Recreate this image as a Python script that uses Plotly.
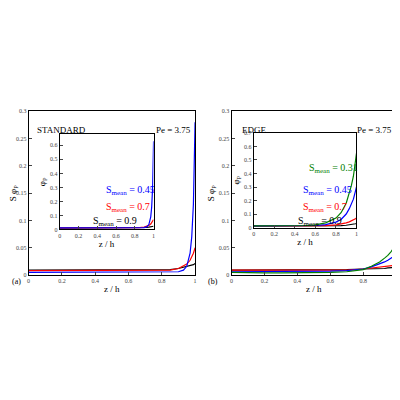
import plotly.graph_objects as go

x = [0, 0.1, 0.2, 0.3, 0.4, 0.5, 0.6, 0.7, 0.8, 0.85, 0.9, 0.93, 0.95, 0.97, 0.98, 0.99, 1.0]
# Panel (a) STANDARD, S*phi_p
a_045 = [0.005]*10 + [0.006, 0.009, 0.016, 0.04, 0.07, 0.13, 0.28]
a_07 = [0.008]*9 + [0.009, 0.012, 0.016, 0.02, 0.027, 0.033, 0.04, 0.05]
a_09 = [0.009]*9 + [0.010, 0.012, 0.014, 0.015, 0.017, 0.018, 0.019, 0.021]
# inset (a) phi_p
ai_045 = [0.011]*10 + [0.013, 0.02, 0.035, 0.09, 0.16, 0.3, 0.63]
ai_07 = [0.011]*9 + [0.013, 0.017, 0.023, 0.029, 0.039, 0.047, 0.057, 0.07]
ai_09 = [0.01]*9 + [0.011, 0.013, 0.015, 0.017, 0.019, 0.02, 0.021, 0.023]
# Panel (b) EDGE
b_031 = [0.005, 0.004, 0.004, 0.004, 0.004, 0.004, 0.005, 0.006, 0.01, 0.016, 0.024, 0.031, 0.036, 0.043, 0.047, 0.052, 0.06]
b_045 = [0.006, 0.006, 0.006, 0.006, 0.006, 0.006, 0.007, 0.008, 0.011, 0.015, 0.02, 0.024, 0.027, 0.031, 0.033, 0.035, 0.037]
b_07 = [0.009, 0.009, 0.009, 0.009, 0.009, 0.009, 0.009, 0.009, 0.011, 0.013, 0.015, 0.016, 0.017, 0.017, 0.018, 0.018, 0.018]
b_09 = [0.009, 0.009, 0.009, 0.009, 0.009, 0.009, 0.009, 0.01, 0.011, 0.011, 0.012, 0.012, 0.013, 0.013, 0.013, 0.014, 0.014]
bi_031 = [0.012, 0.012, 0.012, 0.012, 0.013, 0.015, 0.02, 0.035, 0.07, 0.11, 0.18, 0.25, 0.31, 0.38, 0.43, 0.48, 0.55]
bi_045 = [0.012, 0.012, 0.012, 0.012, 0.012, 0.013, 0.015, 0.022, 0.04, 0.06, 0.1, 0.14, 0.17, 0.21, 0.24, 0.27, 0.3]
bi_07 = [0.012]*7 + [0.014, 0.02, 0.026, 0.035, 0.042, 0.048, 0.055, 0.06, 0.065, 0.07]
bi_09 = [0.01]*8 + [0.012, 0.014, 0.017, 0.019, 0.021, 0.024, 0.026, 0.028, 0.03]

BL, RD, BK, GR = "#0000ff", "#ff0000", "#000000", "#008000"
F = "Liberation Serif"
fig = go.Figure()
def add(y, c, xa, ya):
    fig.add_trace(go.Scatter(x=x, y=y, mode="lines", line=dict(color=c, width=1.2),
                             xaxis=xa, yaxis=ya, showlegend=False))
add(a_09, BK, "x", "y"); add(a_07, RD, "x", "y"); add(a_045, BL, "x", "y")
add(ai_09, BK, "x2", "y2"); add(ai_07, RD, "x2", "y2"); add(ai_045, BL, "x2", "y2")
add(b_09, BK, "x3", "y3"); add(b_07, RD, "x3", "y3"); add(b_045, BL, "x3", "y3"); add(b_031, GR, "x3", "y3")
add(bi_09, BK, "x4", "y4"); add(bi_07, RD, "x4", "y4"); add(bi_045, BL, "x4", "y4"); add(bi_031, GR, "x4", "y4")

ax = dict(showgrid=False, zeroline=False, showline=True, linecolor="black", linewidth=1, mirror=True,
          ticks="inside", ticklen=3, tickfont=dict(family=F, size=6, color="#444"))
xt = dict(tickvals=[0, 0.2, 0.4, 0.6, 0.8, 1], ticktext=["0", "0.2", "0.4", "0.6", "0.8", "1"])
my = dict(range=[0, 0.3], tickvals=[0, 0.05, 0.1, 0.15, 0.2, 0.25, 0.3], ticktext=["0", "0.05", "0.1", "0.15", "0.2", "0.25", "0.3"])
iy = dict(tickvals=[0, 0.1, 0.2, 0.3, 0.4, 0.5, 0.6, 0.7], ticktext=["0", "0.1", "0.2", "0.3", "0.4", "0.5", "0.6", "0.7"])
tt = lambda t: dict(text=t, font=dict(family=F, size=9, color="black"), standoff=2)
fig.update_layout(
    width=392, height=392, margin=dict(l=0, r=0, t=0, b=0), plot_bgcolor="white", paper_bgcolor="white",
    xaxis=dict(**ax, **xt, domain=[0.048, 0.477], range=[0, 1], anchor="y", title=tt("z / h")),
    yaxis=dict(**ax, **my, domain=[0.316, 0.74], anchor="x", title=tt("S φ<sub>P</sub>")),
    xaxis2=dict(**ax, **xt, domain=[0.128, 0.37], range=[0, 1], anchor="y2", title=tt("z / h")),
    yaxis2=dict(**ax, **iy, domain=[0.434, 0.681], range=[0, 0.68], anchor="x2", title=tt("φ<sub>P</sub>")),
    xaxis3=dict(**ax, **xt, domain=[0.571, 0.995], range=[0, 1], anchor="y3", title=tt("z / h")),
    yaxis3=dict(**ax, **my, domain=[0.316, 0.74], anchor="x3", title=tt("S φ<sub>P</sub>")),
    xaxis4=dict(**ax, **xt, domain=[0.628, 0.893], range=[0, 1], anchor="y4", title=tt("z / h")),
    yaxis4=dict(**ax, **iy, domain=[0.439, 0.684], range=[0, 0.7], anchor="x4", title=tt("φ<sub>P</sub>")),
)
def ann(t, xx, yy, c="black", s=9, xanchor="left"):
    fig.add_annotation(text=t, x=xx, y=yy, xref="paper", yref="paper", showarrow=False, xanchor=xanchor,
                       font=dict(family=F, size=s, color=c))
ann("STANDARD", 0.064, 0.71)
ann("Pe = 3.75", 0.472, 0.71, xanchor="right")
ann("EDGE", 0.594, 0.71)
ann("Pe = 3.75", 0.99, 0.71, xanchor="right")
ann("(a)", 0.0, 0.283, s=8); ann("(b)", 0.505, 0.283, s=8)
sm = "S<sub>mean</sub> = "
ann(sm + "0.45", 0.242, 0.536, BL, 10); ann(sm + "0.7", 0.242, 0.49, RD, 10); ann(sm + "0.9", 0.209, 0.454, BK, 10)
ann(sm + "0.31", 0.765, 0.592, GR, 10); ann(sm + "0.45", 0.75, 0.536, BL, 10)
ann(sm + "0.7", 0.75, 0.49, RD, 10); ann(sm + "0.9", 0.737, 0.454, BK, 10)
fig.write_html("out.html")
